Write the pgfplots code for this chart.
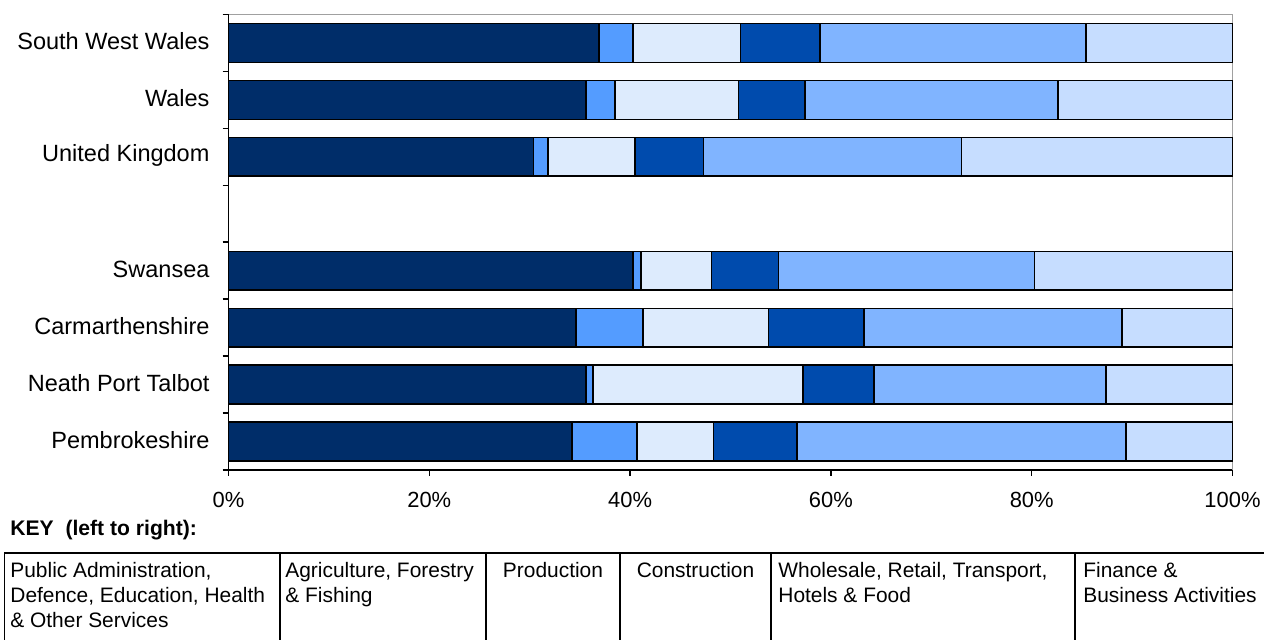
\documentclass[border=0pt]{standalone}
\usepackage{pgfplots}
\usepackage{pgfplotstable}
\pgfplotsset{compat=1.18}
\usepackage{fontspec}
\setmainfont{Liberation Sans}
\definecolor{cPA}{RGB}{0,45,105}
\definecolor{cAG}{RGB}{84,156,255}
\definecolor{cPR}{RGB}{221,235,253}
\definecolor{cCO}{RGB}{0,75,173}
\definecolor{cWH}{RGB}{128,180,255}
\definecolor{cFI}{RGB}{198,221,255}
\definecolor{cGR}{RGB}{160,160,160}
\pgfplotstableread{
y PA Ag Pr Co Wh Fi
7 36.9 3.4 10.7 7.9 26.5 14.6
6 35.6 2.9 12.3 6.6 25.2 17.4
5 30.4 1.4 8.7 6.8 25.7 27.0
3 40.3 0.8 7.0 6.7 25.5 19.7
2 34.6 6.7 12.5 9.5 25.7 11.0
1 35.6 0.7 20.9 7.1 23.1 12.6
0 34.2 6.5 7.6 8.3 32.8 10.6
}\data
\begin{document}
\begin{tikzpicture}
\useasboundingbox (0,0) rectangle (632bp,320bp);
\begin{axis}[
  at={(114.25bp,85bp)}, anchor=south west,
  scale only axis, width=502bp, height=227.75bp,
  xbar stacked, bar width=19.4bp,
  xmin=0, xmax=100, ymin=-0.5, ymax=7.5,
  axis x line*=bottom, axis y line*=left,
  axis line style={-, line width=0.75bp, black},
  tick align=outside,
  major tick length=0pt, minor tick length=3bp,
  tick style={line width=0.75bp, black},
  ytick={0,1,2,3,5,6,7},
  yticklabels={Pembrokeshire,Neath Port Talbot,Carmarthenshire,Swansea,United Kingdom,Wales,South West Wales},
  minor ytick={-0.5,0.5,1.5,2.5,3.5,4.5,5.5,6.5,7.5},
  xtick={0,20,40,60,80,100},
  minor xtick={0,20,40,60,80,100},
  xticklabel={\pgfmathprintnumber{\tick}\%},
  /pgf/number format/assume math mode=true,
  ticklabel style={font=\fontsize{11}{13}\selectfont},
  yticklabel style={xshift=-6bp, yshift=0.8bp, font=\fontsize{11.8}{13}\selectfont},
  xticklabel style={yshift=-7.5bp},
  every axis plot/.append style={draw=black, line width=0.75bp},
  clip=false,
]
\addplot[fill=cPA] table[x=PA,y=y]{\data};
\addplot[fill=cAG] table[x=Ag,y=y]{\data};
\addplot[fill=cPR] table[x=Pr,y=y]{\data};
\addplot[fill=cCO] table[x=Co,y=y]{\data};
\addplot[fill=cWH] table[x=Wh,y=y]{\data};
\addplot[fill=cFI] table[x=Fi,y=y]{\data};
\draw[cGR, line width=0.75bp] (rel axis cs:0,1) -- (rel axis cs:1,1) -- (rel axis cs:1,0);
\end{axis}
% Key
\node[anchor=base west, inner sep=0, font=\bfseries\fontsize{10.6}{12}\selectfont] at (5bp,52.2bp) {KEY\ \ (left to right):};
\draw[line width=0.75bp] (2.25bp,-10bp) -- (2.25bp,43.5bp) -- (640bp,43.5bp);
\foreach \xx in {140,243,310,385.5,537.5} {\draw[line width=0.75bp] (\xx bp,-10bp) -- (\xx bp,43.5bp);}
\begin{scope}[every node/.style={inner sep=0, font=\fontsize{10.5}{12.5}\selectfont}]
\node[anchor=base west] at (5bp,31.5bp) {Public Administration,};
\node[anchor=base west] at (5bp,18.8bp) {Defence, Education, Health};
\node[anchor=base west] at (5bp,6.3bp) {\& Other Services};
\node[anchor=base west] at (142.5bp,31.5bp) {Agriculture, Forestry};
\node[anchor=base west] at (142.5bp,18.8bp) {\& Fishing};
\node[anchor=base] at (276.5bp,31.5bp) {Production};
\node[anchor=base] at (347.75bp,31.5bp) {Construction};
\node[anchor=base west] at (389bp,31.5bp) {Wholesale, Retail, Transport,};
\node[anchor=base west] at (389bp,18.8bp) {Hotels \& Food};
\node[anchor=base west] at (541.5bp,31.5bp) {Finance \&};
\node[anchor=base west] at (541.5bp,18.8bp) {Business Activities};
\end{scope}
\end{tikzpicture}
\end{document}
